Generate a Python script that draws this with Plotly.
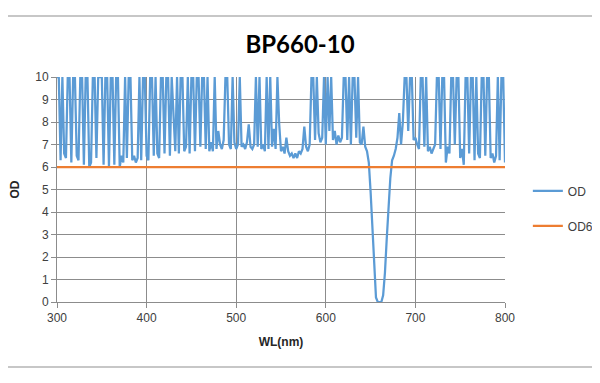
import plotly.graph_objects as go

# Wavelength grid (nm), 2 nm steps
WL = list(range(300, 801, 2))

# Optical density (values of 10 are clipped spikes)
OD = [
    10, 10, 6.3, 10, 6.6, 6.4, 10, 10, 6.2, 10,        # 300-318
    10, 6.5, 6.3, 10, 10, 6.1, 10, 10, 6.0, 6.2,       # 320-338
    10, 10, 6.4, 10, 10, 10, 6.1, 10, 10, 6.0,         # 340-358
    10, 10, 6.1, 10, 10, 6.0, 6.5, 6.2, 10, 6.4,       # 360-378
    10, 10, 6.3, 6.5, 6.2, 6.4, 10, 6.3, 10, 10,       # 380-398
    6.5, 6.3, 10, 10, 6.5, 10, 6.6, 6.4, 10, 10,       # 400-418
    6.6, 10, 10, 6.5, 10, 8.1, 6.7, 10, 6.6, 10,       # 420-438
    10, 6.7, 6.9, 10, 6.6, 10, 10, 6.7, 10, 10,        # 440-458
    6.9, 10, 10, 6.8, 10, 6.7, 7.1, 6.7, 10, 6.8,      # 460-478
    7.6, 7.0, 6.8, 7.2, 10, 10, 7.0, 6.8, 10, 7.1,     # 480-498
    6.8, 7.0, 10, 6.9, 7.0, 6.8, 7.1, 7.9, 6.9, 6.8,   # 500-518
    7.0, 10, 6.9, 10, 6.8, 7.0, 6.7, 10, 6.8, 10,      # 520-538
    6.9, 7.7, 6.8, 10, 7.9, 6.7, 6.9, 6.6, 7.3, 6.7,   # 540-558
    6.5, 6.6, 6.4, 6.6, 6.4, 6.7, 6.6, 6.8, 7.8, 6.9,  # 560-578
    6.7, 7.0, 10, 10, 7.2, 10, 7.5, 7.1, 7.3, 10,      # 580-598
    7.0, 10, 7.6, 10, 7.2, 7.6, 7.0, 7.4, 7.1, 7.3,    # 600-618
    10, 10, 7.2, 10, 7.0, 10, 10, 7.3, 10, 7.1,        # 620-638
    7.0, 7.8, 6.9, 6.7, 6.2, 4.9, 3.3, 1.7, 0.2, 0.0,  # 640-658
    0.0, 0.0, 0.3, 1.3, 2.8, 4.2, 5.5, 6.3, 6.5, 6.8,  # 660-678
    7.3, 8.4, 7.0, 8.0, 10, 10, 7.6, 10, 10, 7.2,      # 680-698
    7.3, 7.0, 6.8, 10, 10, 6.9, 10, 6.7, 6.9, 6.6,     # 700-718
    6.8, 7.0, 10, 10, 6.8, 10, 10, 6.2, 6.9, 6.6,      # 720-738
    10, 10, 7.0, 10, 10, 6.4, 6.8, 6.1, 10, 10,        # 740-758
    6.6, 10, 10, 6.3, 10, 6.6, 6.4, 10, 10, 6.5,       # 760-778
    10, 10, 6.4, 6.6, 6.2, 6.5, 10, 6.3, 10, 10,       # 780-798
    6.2,                                               # 800
]

# OD6 reference line
WL6 = [300, 800]
OD6 = [6, 6]

X_TICKS = [300, 400, 500, 600, 700, 800]
Y_TICKS = list(range(0, 11))

# The page body adds an 8 px offset, so the figure is 592x375
W, H = 592, 375
L, R, T, B = 49, 95, 69, 81
PW, PH = W - L - R, H - T - B  # 448 x 225

GRID = "#8c8c8c"
TICKFONT = dict(family="Liberation Sans Narrow, Arial Narrow, Liberation Sans, Arial, sans-serif",
                size=12, color="#404040")

fig = go.Figure()
fig.add_trace(go.Scatter(x=WL, y=OD, mode="lines", name="OD", legendgroup="a",
                         line=dict(color="#5B9BD5", width=2.25)))
fig.add_trace(go.Scatter(x=WL6, y=OD6, mode="lines", name="OD6", legendgroup="b",
                         line=dict(color="#ED7D31", width=2.25)))

fig.update_layout(
    width=W, height=H,
    margin=dict(l=L, r=R, t=T, b=B, autoexpand=False),
    paper_bgcolor="white", plot_bgcolor="white",
    title=dict(text="<b>BP660-10</b>", x=292 / W, xref="container", xanchor="center",
               y=1 - 37 / H, yanchor="middle",
               font=dict(family="Lato, Open Sans, sans-serif", size=24, color="#000000")),
    legend=dict(x=1.051, xanchor="left", y=0.558, yanchor="top",
                tracegroupgap=16,
                font=dict(family="Liberation Sans, Arial, sans-serif", size=12, color="#404040"),
                bgcolor="rgba(0,0,0,0)"),
    xaxis=dict(range=[300, 800], tickvals=X_TICKS, showgrid=True, gridcolor=GRID, gridwidth=1,
               showline=True, linecolor=GRID, linewidth=1, ticks="outside", ticklen=5,
               tickcolor=GRID, tickfont=TICKFONT, zeroline=False, automargin=False,
               title=dict(text="<b>WL(nm)</b>", standoff=13,
                          font=dict(family="Liberation Sans, Arial, sans-serif", size=12, color="#262626"))),
    yaxis=dict(range=[0, 10], tickvals=Y_TICKS, showgrid=True, gridcolor=GRID, gridwidth=1,
               showline=True, linecolor=GRID, linewidth=1, ticks="outside", ticklen=5,
               tickcolor=GRID, tickfont=TICKFONT, zeroline=False, automargin=False,
               title=dict(text="<b>OD</b>", standoff=15,
                          font=dict(family="Liberation Sans, Arial, sans-serif", size=12, color="#262626"))),
    shapes=[
        dict(type="line", xref="paper", yref="paper", x0=-L / PW, x1=(W - L) / PW,
             y0=(T + PH - 8) / PH, y1=(T + PH - 8) / PH, line=dict(color="#b4b4b4", width=1.5)),
        dict(type="line", xref="paper", yref="paper", x0=-L / PW, x1=(W - L) / PW,
             y0=(T + PH - 359) / PH, y1=(T + PH - 359) / PH, line=dict(color="#b4b4b4", width=1.5)),
    ],
)

fig.write_html("out.html")
